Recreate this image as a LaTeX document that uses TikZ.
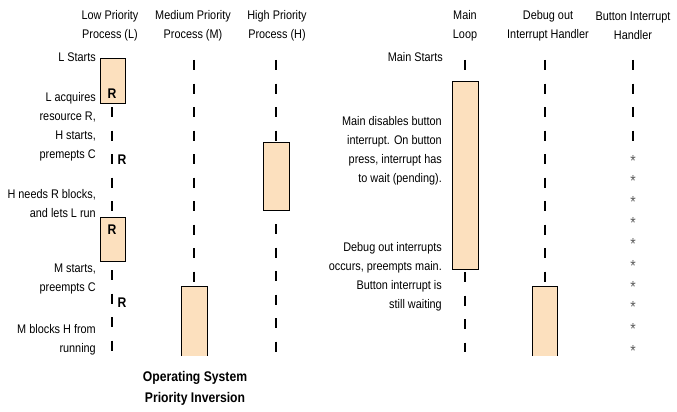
\documentclass[tikz,border=0pt]{standalone}
\usepackage{fontspec}
\setmainfont{Liberation Sans}[FakeStretch=0.87]
\definecolor{taskfill}{RGB}{252,224,190}
\definecolor{pendgray}{RGB}{90,90,90}

\begin{document}
\begin{tikzpicture}[x=1pt,y=1pt]
	\tikzstyle{every node}+=[inner sep=0pt, font=\fontsize{12.5}{19}\selectfont]
	\tikzstyle{lbl}=[anchor=east, align=right]
	\tikzstyle{head}=[align=center]
	\tikzstyle{tick}=[black, line width=2pt, dash pattern=on 10pt off 13.5pt]
	\tikzstyle{task}=[fill=taskfill, draw=black, line width=1pt]
	\tikzstyle{openbox}=[fill=taskfill]
	\tikzstyle{res}=[font=\fontsize{14}{16}\selectfont\bfseries]
	\tikzstyle{pend}=[anchor=base, text=pendgray, font=\fontsize{16}{18}\selectfont]
	\useasboundingbox (0,0) rectangle (677,-412);
	% column heads
	\node [head] (hl) at (110,-26) {Low Priority\\Process (L)};
	\node [head] (hm) at (193,-26) {Medium Priority\\Process (M)};
	\node [head] (hh) at (277,-26) {High Priority\\Process (H)};
	\node [head] (hmain) at (465,-26) {Main\\Loop};
	\node [head] (hdbg) at (548,-26) {Debug out\\Interrupt Handler};
	\node [head] (hbtn) at (633,-26) {Button Interrupt\\Handler};
	% left side notes
	\node [lbl] (n1) at (96,-57) {L Starts};
	\node [lbl] (n2) at (96,-127) {L acquires\\resource R,\\H starts,\\premepts C};
	\node [lbl] (n3) at (96,-203.5) {H needs R blocks,\\and lets L run};
	\node [lbl] (n4) at (96,-279) {M starts,\\preempts C};
	\node [lbl] (n5) at (96,-340) {M blocks H from\\running};
	% low priority
	\node [task, minimum width=25, minimum height=44] (l1) at (112.5,-81) {};
	\node [res] (r1) at (112,-94) {R};
	\draw [tick] (112,-107) -- (112,-211);
	\node [res] (r2) at (122,-160) {R};
	\node [task, minimum width=25, minimum height=44] (l2) at (112.5,-239) {};
	\node [res] (r3) at (112,-230) {R};
	\draw [tick] (112,-270) -- (112,-352);
	\node [res] (r4) at (122,-303) {R};
	% medium priority
	\draw [tick] (194,-60) -- (194,-282);
	\node [openbox, minimum width=25, minimum height=69] (m1) at (194.5,-321.5) {};
	\draw [black, line width=1pt] (m1.south west) -- (m1.north west) -- (m1.north east) -- (m1.south east);
	% high priority
	\draw [tick] (276,-60) -- (276,-141);
	\node [task, minimum width=26, minimum height=68] (h1) at (276,-176) {};
	\draw [tick] (276,-224) -- (276,-352);
	% title
	\node [head, font=\fontsize{14}{21}\selectfont\bfseries] (title) at (195,-388) {Operating System\\Priority Inversion};
	% right side notes
	\node [lbl] (n6) at (443,-57) {Main Starts};
	\node [lbl] (n7) at (442,-150.5) {Main disables button\\interrupt. On button\\press, interrupt has\\to wait (pending).};
	\node [lbl] (n8) at (442,-277) {Debug out interrupts\\occurs, preempts main.\\Button interrupt is\\still waiting};
	% main loop
	\draw [tick] (465,-60) -- (465,-70);
	\node [task, minimum width=26, minimum height=188] (main) at (465,-175) {};
	\draw [tick] (465,-272) -- (465,-352);
	% debug out
	\draw [tick] (545,-60) -- (545,-282);
	\node [openbox, minimum width=24, minimum height=69] (dbg) at (545,-321.5) {};
	\draw [black, line width=1pt] (dbg.south west) -- (dbg.north west) -- (dbg.north east) -- (dbg.south east);
	% button interrupt
	\draw [tick] (633,-60) -- (633,-141);
	\node [pend] (p1) at (633,-166) {*};
	\node [pend] (p2) at (633,-186) {*};
	\node [pend] (p3) at (633,-207) {*};
	\node [pend] (p4) at (633,-228) {*};
	\node [pend] (p5) at (633,-249) {*};
	\node [pend] (p6) at (633,-271) {*};
	\node [pend] (p7) at (633,-292) {*};
	\node [pend] (p8) at (633,-312) {*};
	\node [pend] (p9) at (633,-334) {*};
	\node [pend] (p10) at (633,-356) {*};
\end{tikzpicture}
\end{document}
